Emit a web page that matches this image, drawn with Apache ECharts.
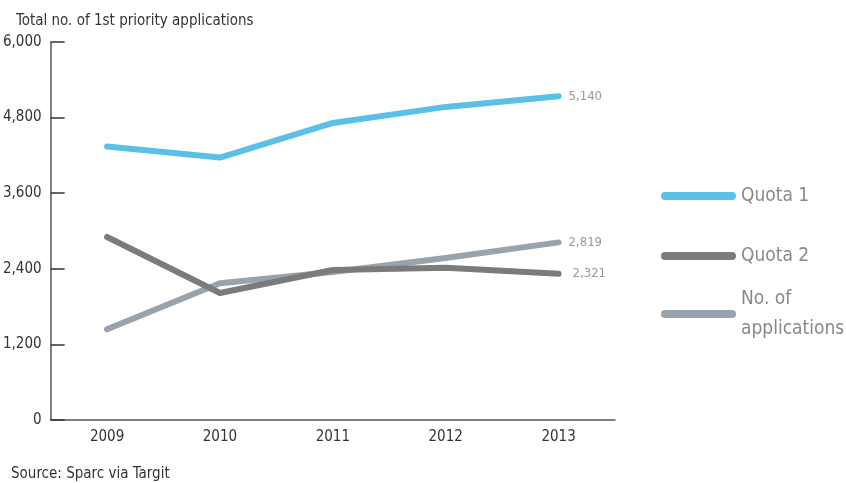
<!DOCTYPE html>
<html>
<head>
<meta charset="utf-8">
<script src="https://cdn.jsdelivr.net/npm/echarts@6/dist/echarts.min.js"></script>
<style>
  html, body { margin: 0; padding: 0; background: #fff; }
  #chart { width: 846px; height: 483px; }
</style>
</head>
<body>
<div id="chart"></div>
<script>
const years = ["2009", "2010", "2011", "2012", "2013"];
const quota1 = [4340, 4165, 4715, 4970, 5140];
const quota2 = [2905, 2015, 2380, 2415, 2321];
const applications = [1440, 2170, 2350, 2570, 2819];
const yTicks = [0, 1200, 2400, 3600, 4800, 6000];

// condensed face via font shorthand (fontStyle is passed straight into ctx.font)
const FONT = '"DejaVu Sans"';
const STRETCH = "condensed";
const capsule = "path://M4,0 L71,0 A4,4 0 0 1 71,8 L4,8 A4,4 0 0 1 4,0 Z";

const myChart = echarts.init(document.getElementById("chart"));

const fmt = (v) => v.toLocaleString("en-US");
const txt = (size, color) => ({ fontFamily: FONT, fontStyle: STRETCH, fontSize: size, fontWeight: "normal", color });

const makeSeries = (name, data, color, labelDist) => ({
  name,
  type: "line",
  data,
  symbol: "none",
  lineStyle: { color, width: 6, cap: "round", join: "round" },
  itemStyle: { color },
  endLabel: {
    show: true,
    formatter: (p) => fmt(p.value),
    ...txt(13, "#999"),
    distance: labelDist,
  },
  z: name === "Quota 2" ? 3 : 2,
});

const LEG_LH = 30;
const legendBase = {
  orient: "vertical",
  left: 661,
  padding: 0,
  itemWidth: 75,
  itemHeight: 8,
  itemGap: 30,
  icon: capsule,
  textStyle: { ...txt(19, "#888"), lineHeight: LEG_LH },
};

const option = {
  animation: false,
  textStyle: { fontFamily: FONT, fontStyle: STRETCH },
  title: [
    { text: "Total no. of 1st priority applications", left: 11, top: 9, textStyle: txt(15, "#333") },
    { text: "Source: Sparc via Targit", left: 6, top: 462, textStyle: txt(15, "#333") },
  ],
  grid: { left: 48, right: 231, top: 42, bottom: 63 },
  legend: [
    { ...legendBase, top: 196 - LEG_LH / 2, data: ["Quota 1", "Quota 2"] },
    {
      ...legendBase,
      top: 314 - 1.5 * LEG_LH,
      formatter: () => "No. of\napplications",
      data: [{ name: "No. of applications", textStyle: { padding: [LEG_LH, 0, 0, 0] } }],
    },
  ],
  xAxis: {
    type: "category",
    data: years,
    boundaryGap: true,
    axisLine: { lineStyle: { color: "#555", width: 1.5 } },
    axisTick: { inside: true, length: 11, lineStyle: { color: "#555" } },
    axisLabel: { ...txt(15, "#333"), margin: 10 },
  },
  yAxis: {
    type: "value",
    min: yTicks[0],
    max: yTicks[yTicks.length - 1],
    interval: 1200,
    axisLine: { show: true, lineStyle: { color: "#555", width: 1.5 } },
    axisTick: { show: true, inside: true, length: 14, lineStyle: { color: "#333", width: 1.5 } },
    splitLine: { show: false },
    axisLabel: { ...txt(15, "#333"), margin: 9, formatter: (v) => fmt(v) },
  },
  series: [
    makeSeries("Quota 1", quota1, "#5bc0e8", 10),
    makeSeries("Quota 2", quota2, "#7b7b7b", 14),
    makeSeries("No. of applications", applications, "#98a3ad", 10),
  ],
};

myChart.setOption(option);
</script>
</body>
</html>
